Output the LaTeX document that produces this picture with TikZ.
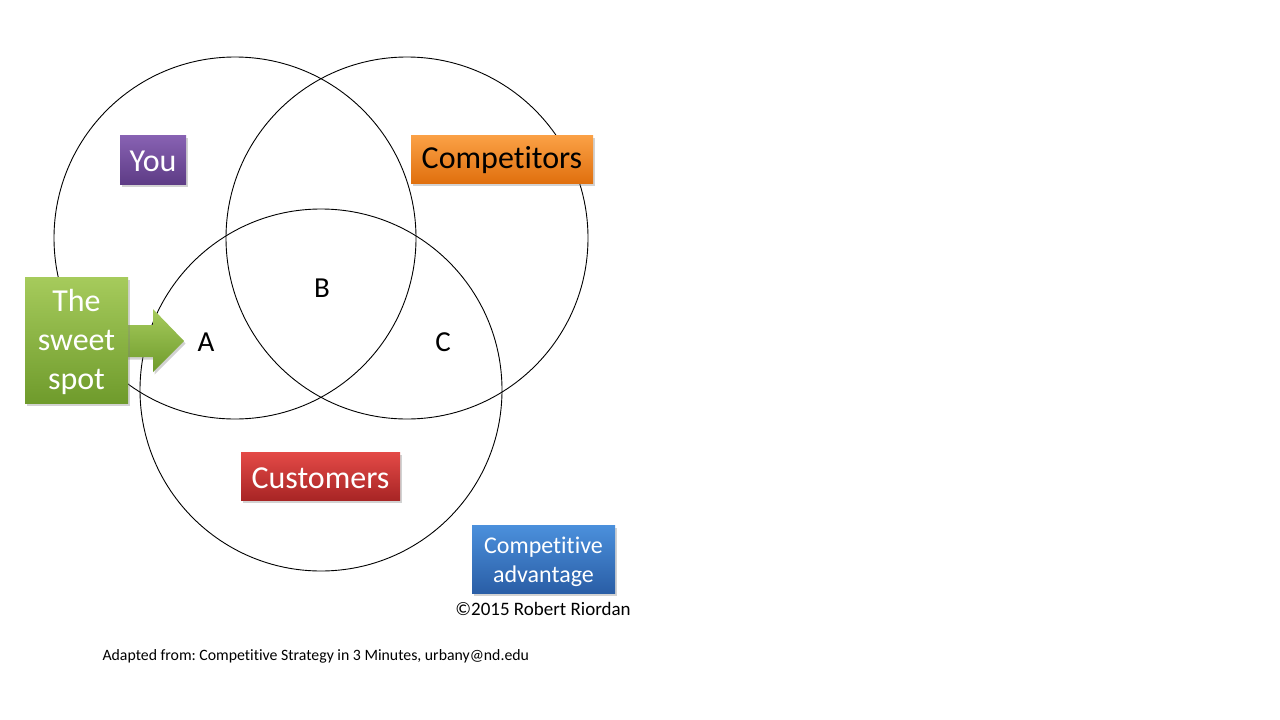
\documentclass[tikz,border=0pt]{standalone}
\usepackage{fontspec}
\setmainfont[Ligatures=NoCommon]{Carlito}
\frenchspacing
\usetikzlibrary{shadows}
\definecolor{pTop}{HTML}{8862B3}\definecolor{pBot}{HTML}{5E3C86}
\definecolor{oTop}{HTML}{FBA146}\definecolor{oBot}{HTML}{E0700E}
\definecolor{rTop}{HTML}{E44A47}\definecolor{rBot}{HTML}{A82525}
\definecolor{gTop}{HTML}{A6CB5C}\definecolor{gBot}{HTML}{6F9B2C}
\definecolor{bTop}{HTML}{4B90DC}\definecolor{bBot}{HTML}{2A5EA6}
\tikzset{
  venn/.style={draw=black, line width=0.9pt},
  lbox/.style={inner sep=0pt, outer sep=0pt, anchor=north west,
    drop shadow={opacity=0.35, shadow xshift=1.5pt, shadow yshift=-2.5pt}},
  letter/.style={font=\fontsize{29}{33}\selectfont, text=black},
}
\begin{document}
\begin{tikzpicture}[x=1pt,y=-1pt]
\useasboundingbox (0,0) rectangle (1280,720);
\fill[white] (0,0) rectangle (1280,720);
% circles
\node[venn, circle, minimum size=362pt, inner sep=0pt] (you) at (235,238) {};
\node[venn, circle, minimum size=362pt, inner sep=0pt] (comp) at (407,238) {};
\node[venn, circle, minimum size=362pt, inner sep=0pt] (cust) at (321,390) {};
% letters
\node[letter] (A) at (206,342) {A};
\node[letter] (B) at (322,288) {B};
\node[letter] (C) at (443,342) {C};
% label boxes
\node[lbox, top color=pTop, bottom color=pBot, minimum width=66pt, minimum height=49pt,
  text=white, text height=24.5pt, font=\fontsize{32}{36}\selectfont] (youlbl) at (120,135) {You};
\node[lbox, top color=oTop, bottom color=oBot, minimum width=182pt, minimum height=48pt,
  text=black, text height=24.5pt, font=\fontsize{32}{36}\selectfont] (complbl) at (411,135) {Competitors};
\node[lbox, top color=rTop, bottom color=rBot, minimum width=159pt, minimum height=48pt,
  text=white, text height=24.5pt, font=\fontsize{32}{36}\selectfont] (custlbl) at (241,452) {Customers};
\node[lbox, top color=bTop, bottom color=bBot, minimum width=143pt, minimum height=68pt,
  text=white, align=center, font=\fontsize{24}{29}\selectfont] (adv) at (472,525) {\rule{0pt}{21.5pt}Competitive\\advantage};
% sweet spot arrow and box
\coordinate (tip) at (184,341);
\path[top color=gTop, bottom color=gBot, drop shadow={opacity=0.35, shadow xshift=1.5pt, shadow yshift=-2.5pt}]
  (120,325) -- (153,325) -- (153,309) -- (tip) -- (153,372) -- (153,357) -- (120,357) -- cycle;
\node[lbox, top color=gTop, bottom color=gBot, minimum width=103pt, minimum height=126pt,
  text=white, align=center, font=\fontsize{32}{39}\selectfont] (sweet) at (25,277) {\rule{0pt}{27pt}The\\sweet\\spot};
% texts
\node[font=\fontsize{19}{22}\selectfont, text=black] (copy) at (543,609) {©2015 Robert Riordan};
\node[font=\fontsize{15.8}{18}\selectfont, text=black, anchor=west] (src) at (99,656) {Adapted from: Competitive Strategy in 3 Minutes, urbany@nd.edu};
\end{tikzpicture}
\end{document}
